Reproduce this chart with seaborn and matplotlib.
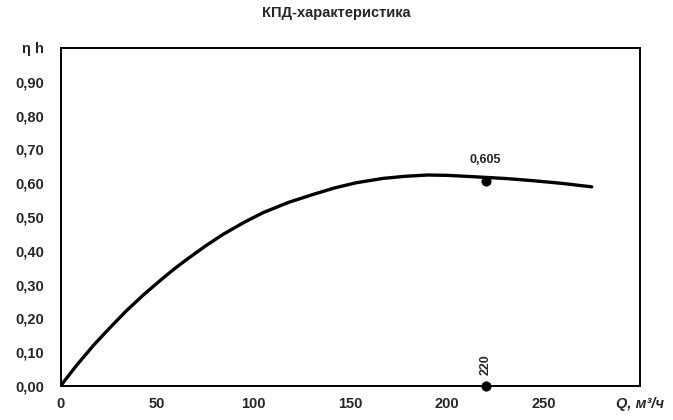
import matplotlib
matplotlib.use("Agg")
import matplotlib.pyplot as plt
import seaborn as sns
import pandas as pd

# values
flow = [0, 8, 17, 26, 34, 43, 52, 59, 66, 75, 84, 95, 105, 118, 131, 142, 153, 167, 178, 190, 200, 207, 220, 232, 245, 260, 275]
efficiency = [0, 0.059, 0.120, 0.175, 0.222, 0.270, 0.314, 0.347, 0.377, 0.414, 0.448, 0.484, 0.513, 0.543, 0.567, 0.586, 0.601, 0.614, 0.620, 0.624, 0.623, 0.621, 0.617, 0.613, 0.607, 0.599, 0.589]
duty_flow = 220
duty_eff = 0.605
x_ticks = [0, 50, 100, 150, 200, 250, 300]
x_labels = ["0", "50", "100", "150", "200", "250", "Q, м³/ч"]
y_ticks = [0.0, 0.1, 0.2, 0.3, 0.4, 0.5, 0.6, 0.7, 0.8, 0.9, 1.0]
y_labels = ["0,00", "0,10", "0,20", "0,30", "0,40", "0,50", "0,60", "0,70", "0,80", "0,90", "η h"]

sns.set_style("white")
plt.rcParams['font.family'] = ['Liberation Sans', 'DejaVu Sans']
plt.rcParams['font.weight'] = 'bold'

df = pd.DataFrame({"Q": flow, "eta": efficiency})
points = pd.DataFrame({"Q": [duty_flow, duty_flow], "eta": [duty_eff, 0.0]})

fig = plt.figure(figsize=(6.73, 4.2), dpi=100)
ax = fig.add_axes([0.09, 0.081, 0.861, 0.805])

sns.lineplot(data=df, x="Q", y="eta", color="black", linewidth=2.4, ax=ax)
sns.scatterplot(data=points, x="Q", y="eta", color="black", s=45, edgecolor="black", zorder=5, ax=ax, clip_on=False)

ax.annotate("0,605", (duty_flow, duty_eff), xytext=(0, 11), textcoords="offset points",
            ha="center", va="bottom", fontsize=9, fontweight="bold")
ax.annotate("220", (duty_flow, 0), xytext=(0, 8), textcoords="offset points",
            ha="center", va="bottom", rotation=90, fontsize=9, fontweight="bold")

ax.set_xlim(0, 300)
ax.set_ylim(0, 1.0)
ax.set_xticks(x_ticks)
ax.set_xticklabels(x_labels, fontsize=10.5, fontweight="bold")
ax.set_yticks(y_ticks)
ax.set_yticklabels(y_labels, fontsize=10.5, fontweight="bold")
ax.get_xticklabels()[-1].set_fontstyle("italic")
ax.set_xlabel("")
ax.set_ylabel("")
ax.tick_params(axis="both", direction="out", length=4, width=1.2, color="black", pad=4)
ax.tick_params(axis="y", pad=8)

for s in ax.spines.values():
    s.set_color("black")
    s.set_linewidth(1.4)

fig.suptitle("КПД-характеристика", x=0.5, y=0.985, fontsize=10.5, fontweight="bold")

fig.savefig("out.png", dpi=100)
